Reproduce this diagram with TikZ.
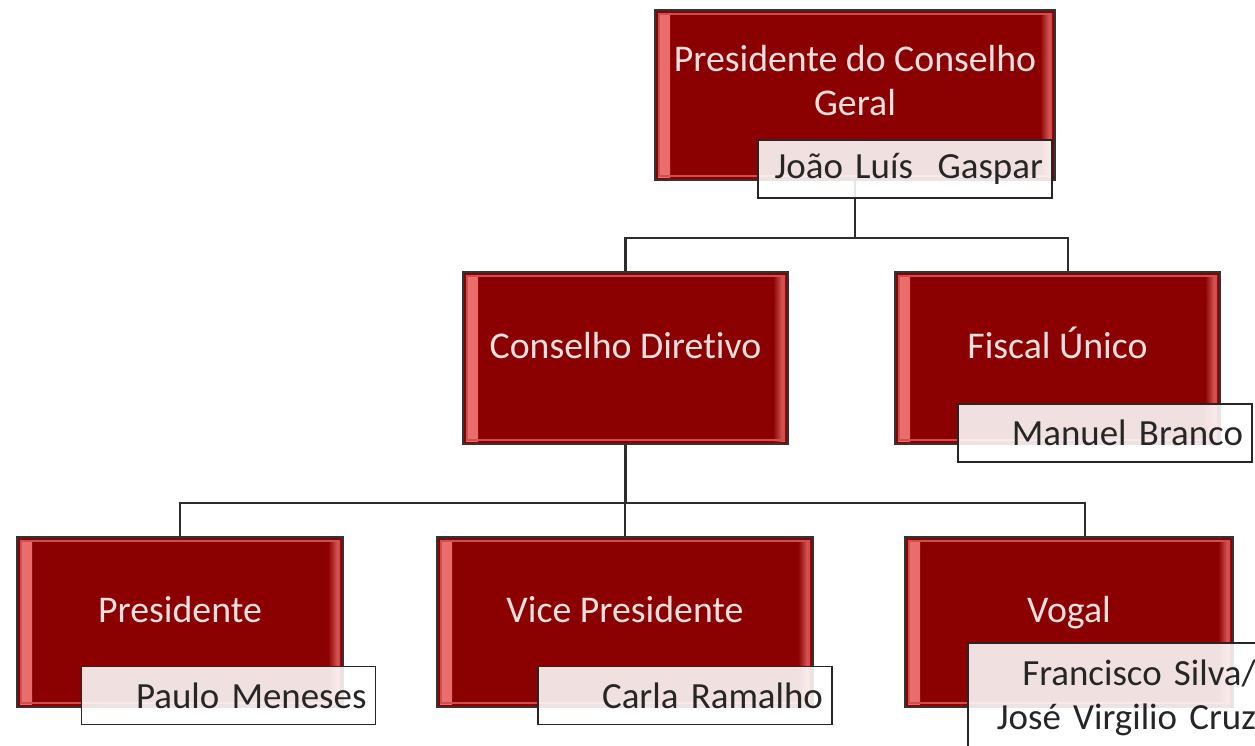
\documentclass[tikz,border=0pt]{standalone}
\usepackage{fontspec}
\setmainfont{Carlito}[Ligatures=NoCommon]
\definecolor{boxred}{RGB}{139,0,0}
\definecolor{bevelred}{RGB}{236,112,112}
\definecolor{boxtext}{RGB}{242,224,224}
\definecolor{linegray}{RGB}{45,45,45}
\definecolor{nametext}{RGB}{38,38,38}
\tikzset{
	redbox/.style={draw=black!80, line width=0.9pt, fill=boxred, text=boxtext, align=center,
		font=\fontsize{21.5}{25}\selectfont, minimum height=3.4cm, text height=1em, text depth=1em,
		path picture={
			\shade[left color=bevelred, right color=boxred] ([shift={(0.06,0.06)}]path picture bounding box.south west) rectangle ([shift={(0.3,-0.06)}]path picture bounding box.north west);
			\shade[left color=boxred, right color=bevelred] ([shift={(-0.3,0.06)}]path picture bounding box.south east) rectangle ([shift={(-0.06,-0.06)}]path picture bounding box.north east);
			\draw[bevelred!70!boxred, line width=1.2pt] ([shift={(0.08,0.08)}]path picture bounding box.south west) rectangle ([shift={(-0.08,-0.08)}]path picture bounding box.north east);
		}},
	namebox/.style={draw=black!85, line width=0.9pt, fill=white, fill opacity=0.88, text opacity=1, text=nametext,
		font=\fontsize{21}{25}\selectfont, text width=5.52cm, align=right, minimum height=1.16cm, inner xsep=0.18cm},
	conn/.style={draw=linegray, line width=1.3pt},
}
\begin{document}
\begin{tikzpicture}
	\useasboundingbox (0,0) rectangle (25.1,-14.92);
	\fill[white] (0,0) rectangle (25.1,-14.92);
	\clip (0,0) rectangle (25.1,-14.92);
	
	\node[redbox, minimum width=8cm, text height=1.55cm, text depth=0.75cm] (top) at (17.1,-1.9) {Presidente do Conselho\\Geral};
	\node[redbox, minimum width=6.5cm, minimum height=3.44cm] (cd) at (12.51,-7.16) {Conselho Diretivo};
	\node[redbox, minimum width=6.5cm, minimum height=3.44cm] (fiscal) at (21.15,-7.16) {Fiscal Único};
	\node[redbox, minimum width=6.52cm] (pres) at (3.6,-12.44) {Presidente};
	\node[redbox, minimum width=7.52cm] (vice) at (12.5,-12.44) {Vice Presidente};
	\node[redbox, minimum width=6.56cm] (vogal) at (21.38,-12.44) {Vogal};
	
	\coordinate (topbus) at ([yshift=-1.14cm]top.south);
	\draw[conn] (top.south) -- (topbus);
	\draw[conn] (cd.north) |- (topbus) -| ([xshift=0.21cm]fiscal.north);
	
	\coordinate (cdbus) at ([yshift=-1.16cm]cd.south);
	\draw[conn] (cd.south) -- (cdbus);
	\draw[conn] (pres.north) |- (cdbus) -| ([xshift=0.32cm]vogal.north);
	\draw[conn] (vice.north) -- (vice.north |- cdbus);
	
	\node[namebox] (top-name) at (18.1,-3.38) {João Luís~ Gaspar};
	\node[namebox] (fiscal-name) at (22.1,-8.66) {Manuel Branco};
	\node[namebox] (pres-name) at (4.57,-13.91) {Paulo Meneses};
	\node[namebox] (vice-name) at (13.7,-13.91) {Carla Ramalho};
	\node[namebox, minimum height=2.2cm, inner xsep=0.12cm, text width=5.64cm] (vogal-name) at (22.3,-13.96) {Francisco Silva/\\José Virgilio Cruz};
\end{tikzpicture}
\end{document}
